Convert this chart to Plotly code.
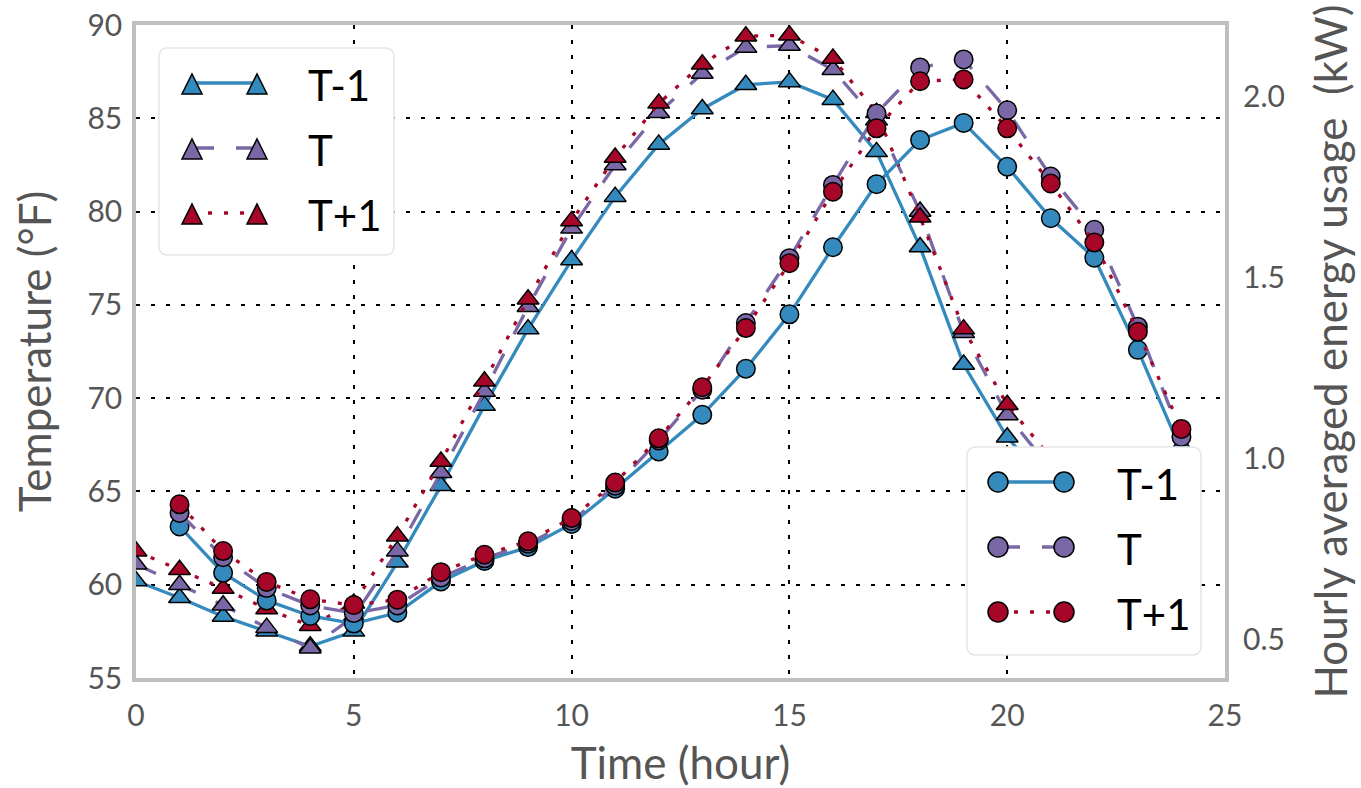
import plotly.graph_objects as go

# ---------------- data ----------------
hours_temp = list(range(0, 25))
hours_energy = list(range(1, 25))

series_names = ["T-1", "T", "T+1"]

temp_tm1 = [60.2, 59.3, 58.3, 57.5, 56.7, 57.5, 61.2, 65.3, 69.6, 73.7, 77.4, 80.8, 83.6,
            85.5, 86.8, 86.95, 86.0, 83.2, 78.1, 71.8, 67.9, 65.3, 63.2, 61.6, 60.6]
temp_t = [61.1, 60.0, 58.9, 57.7, 56.6, 58.3, 61.8, 66.0, 70.35, 74.9, 79.1, 82.5, 85.3,
          87.4, 88.8, 88.9, 87.6, 84.9, 80.0, 73.5, 69.1, 66.2, 64.0, 62.4, 61.3]
temp_tp1 = [61.8, 60.8, 59.8, 58.7, 57.8, 59.0, 62.6, 66.6, 70.9, 75.3, 79.5, 82.9, 85.8,
            87.9, 89.4, 89.45, 88.2, 85.3, 79.7, 73.7, 69.65, 66.8, 64.6, 62.9, 61.9]

energy_tm1 = [0.813, 0.685, 0.609, 0.566, 0.545, 0.575, 0.661, 0.718, 0.756, 0.820, 0.917, 1.020,
              1.121, 1.248, 1.398, 1.583, 1.757, 1.879, 1.926, 1.805, 1.663, 1.554, 1.300, 1.020]
energy_t = [0.850, 0.728, 0.643, 0.595, 0.574, 0.595, 0.672, 0.725, 0.765, 0.828, 0.925, 1.050,
            1.190, 1.374, 1.553, 1.755, 1.952, 2.079, 2.101, 1.961, 1.778, 1.631, 1.364, 1.060]
energy_tp1 = [0.874, 0.745, 0.660, 0.612, 0.596, 0.611, 0.687, 0.735, 0.772, 0.836, 0.934, 1.056,
              1.197, 1.360, 1.539, 1.736, 1.911, 2.041, 2.046, 1.911, 1.759, 1.596, 1.350, 1.082]

x_ticks = [0, 5, 10, 15, 20, 25]
y_ticks = [55, 60, 65, 70, 75, 80, 85, 90]
y2_ticks = [0.5, 1.0, 1.5, 2.0]
y2_ticktext = ["0.5", "1.0", "1.5", "2.0"]

x_title = "Time (hour)"
y_title = "Temperature (°F)"
y2_title = "Hourly averaged energy usage \u00a0(kW)"

# ---------------- style ----------------
colors = ["#348ABD", "#7A68A6", "#A60628"]
dashes = ["solid", "22px,22px", "4px,12px"]
FONT = "Lato, Carlito, 'DejaVu Sans', sans-serif"
GREY_TXT = "#555555"
FRAME = "#bfbfbf"
LW = 3.3
TITLE_SIZE = 44

temps = [temp_tm1, temp_t, temp_tp1]
energies = [energy_tm1, energy_t, energy_tp1]

fig = go.Figure()

for name, vals, c, d in zip(series_names, temps, colors, dashes):
    fig.add_trace(go.Scatter(
        x=hours_temp, y=vals, name=name, mode="lines+markers",
        line=dict(color=c, width=LW, dash=d),
        marker=dict(symbol="triangle-up", size=19, color=c,
                    line=dict(color="black", width=1.5)),
        yaxis="y", showlegend=False))

for name, vals, c, d in zip(series_names, energies, colors, dashes):
    fig.add_trace(go.Scatter(
        x=hours_energy, y=vals, name=name, mode="lines+markers",
        line=dict(color=c, width=LW, dash=d),
        marker=dict(symbol="circle", size=18.5, color=c,
                    line=dict(color="black", width=1.5)),
        yaxis="y2", showlegend=False))

# ---------------- layout ----------------
W, H = 1361, 788
ML, MR, MT, MB = 136, 136, 25, 110
PW, PH = W - ML - MR, H - MT - MB


def px2x(px):
    return (px - ML) / PW


def py2y(py):
    return (H - MB - py) / PH


shapes = []
annotations = []


def rounded_rect(x0, y0, x1, y1, r):
    pts = [("M", x0 + r, y0), ("L", x1 - r, y0), ("Q", x1, y0, x1, y0 + r),
           ("L", x1, y1 - r), ("Q", x1, y1, x1 - r, y1), ("L", x0 + r, y1),
           ("Q", x0, y1, x0, y1 - r), ("L", x0, y0 + r), ("Q", x0, y0, x0 + r, y0)]
    s = ""
    for p in pts:
        cmd = p[0]
        coords = p[1:]
        conv = []
        for i in range(0, len(coords), 2):
            conv.append(f"{px2x(coords[i]):.5f},{py2y(coords[i + 1]):.5f}")
        s += cmd + " " + " ".join(conv) + " "
    return s + "Z"


def triangle(cx, cy, h):
    pts = [(cx - h, cy + h), (cx + h, cy + h), (cx, cy - h)]
    s = "M " + " L ".join(f"{px2x(a):.5f},{py2y(b):.5f}" for a, b in pts) + " Z"
    return s


def make_legend(box, mx0, mx1, tx, rows, kind):
    x0, y0, x1, y1 = box
    shapes.append(dict(type="path", xref="paper", yref="paper", layer="above",
                       path=rounded_rect(x0, y0, x1, y1, 9),
                       fillcolor="white", line=dict(color="#e6e6e6", width=1.5)))
    for name, c, d, ry in zip(series_names, colors, dashes, rows):
        shapes.append(dict(type="line", xref="paper", yref="paper", layer="above",
                           x0=px2x(mx0), x1=px2x(mx1), y0=py2y(ry), y1=py2y(ry),
                           line=dict(color=c, width=LW, dash=d)))
        for mx in (mx0, mx1):
            if kind == "tri":
                shapes.append(dict(type="path", xref="paper", yref="paper", layer="above",
                                   path=triangle(mx, ry + 1, 10), fillcolor=c,
                                   line=dict(color="black", width=1.5)))
            else:
                shapes.append(dict(type="circle", xref="paper", yref="paper", layer="above",
                                   x0=px2x(mx - 10), x1=px2x(mx + 10),
                                   y0=py2y(ry + 10), y1=py2y(ry - 10), fillcolor=c,
                                   line=dict(color="black", width=1.5)))
        annotations.append(dict(xref="paper", yref="paper", x=px2x(tx), y=py2y(ry + 2),
                                xanchor="left", yanchor="middle", showarrow=False,
                                text=name, font=dict(family=FONT, size=42, color="black")))


make_legend((159, 48, 394, 255), 192, 257, 306, [83, 148, 213], "tri")
make_legend((967, 447, 1201, 655), 998, 1064, 1115, [482, 547, 612], "circ")

axis_common = dict(showline=True, linecolor=FRAME, linewidth=3.5, mirror=True,
                   zeroline=False, ticks="", automargin=False,
                   tickfont=dict(family=FONT, size=30, color=GREY_TXT),
                   showgrid=True, gridcolor="black", gridwidth=1.5,
                   griddash="4px,11px")

fig.update_layout(
    width=W, height=H,
    margin=dict(l=ML, r=MR, t=MT, b=MB, autoexpand=False),
    paper_bgcolor="white", plot_bgcolor="white",
    showlegend=False,
    font=dict(family=FONT, color=GREY_TXT),
    xaxis=dict(range=[0, 25], tickvals=x_ticks, **axis_common,
               ticklabelstandoff=8,
               title=dict(text=x_title, font=dict(family=FONT, size=TITLE_SIZE, color=GREY_TXT),
                          standoff=42)),
    yaxis=dict(range=[55, 90], tickvals=y_ticks, **axis_common,
               ticklabelstandoff=4,
               title=dict(text=y_title, font=dict(family=FONT, size=TITLE_SIZE, color=GREY_TXT),
                          standoff=23)),
    yaxis2=dict(range=[0.395, 2.196], tickvals=y2_ticks, ticktext=y2_ticktext,
                overlaying="y", side="right", showgrid=False, zeroline=False,
                showline=False, ticks="", automargin=False,
                ticklabelstandoff=17,
                tickfont=dict(family=FONT, size=30, color=GREY_TXT),
                title=dict(text=y2_title, font=dict(family=FONT, size=TITLE_SIZE, color=GREY_TXT),
                           standoff=32)),
    shapes=shapes,
    annotations=annotations,
)

fig.write_html("out.html",
               config={"displayModeBar": False},
               post_script="document.body.style.margin='0';document.body.style.overflow='hidden';")
